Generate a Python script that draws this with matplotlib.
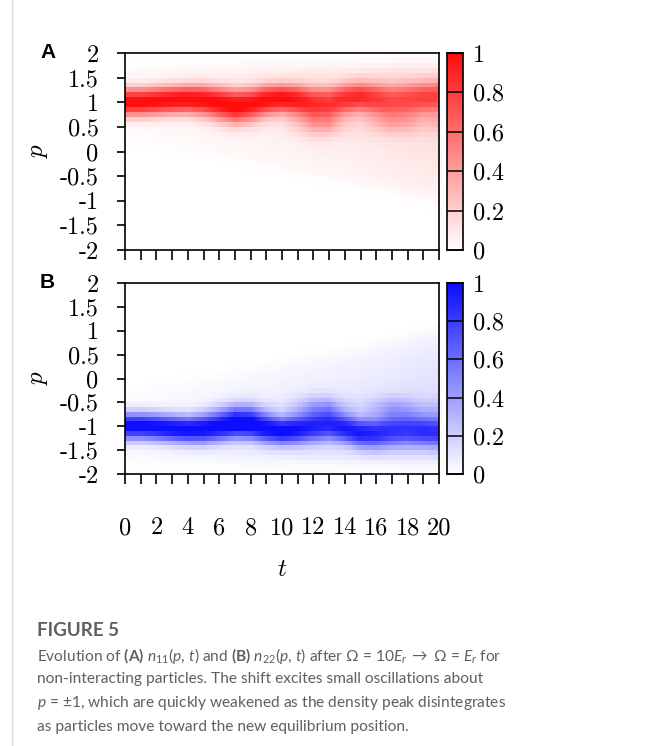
import numpy as np
import matplotlib
matplotlib.use("Agg")
import matplotlib.pyplot as plt
from matplotlib.colors import LinearSegmentedColormap

plt.rcParams['mathtext.fontset'] = 'custom'
plt.rcParams['mathtext.rm'] = 'Lato'
plt.rcParams['mathtext.it'] = 'Lato:italic'
plt.rcParams['mathtext.bf'] = 'Lato:bold'

# ---------------- data ----------------
t_knots = np.arange(0, 21)
# panel A: n11(p,t)
A_center = [1.00, 1.00, 1.02, 1.04, 1.05, 1.04, 1.00, 0.96, 0.98, 1.04, 1.07,
            1.04, 0.98, 0.98, 1.06, 1.10, 1.06, 1.02, 1.04, 1.08, 1.10]
A_peak = [0.98, 0.98, 0.97, 0.97, 0.97, 0.95, 0.92, 0.88, 0.88, 0.92, 0.92,
          0.86, 0.76, 0.72, 0.76, 0.76, 0.68, 0.60, 0.60, 0.62, 0.60]
A_width = [0.20, 0.20, 0.20, 0.20, 0.20, 0.21, 0.21, 0.21, 0.21, 0.21, 0.20,
           0.21, 0.22, 0.22, 0.21, 0.21, 0.22, 0.23, 0.23, 0.22, 0.22]
A_lobe_c = [0.75, 0.75, 0.75, 0.75, 0.75, 0.75, 0.72, 0.70, 0.70, 0.70, 0.65,
            0.60, 0.56, 0.56, 0.60, 0.62, 0.60, 0.58, 0.58, 0.62, 0.62]
A_lobe_amp = [0.0, 0.0, 0.0, 0.0, 0.0, 0.05, 0.15, 0.25, 0.15, 0.05, 0.05,
              0.15, 0.28, 0.28, 0.12, 0.06, 0.15, 0.22, 0.20, 0.12, 0.15]
A_tail_edge = [0.10, 0.06, 0.02, -0.02, -0.06, -0.10, -0.14, -0.20, -0.26, -0.32, -0.38,
               -0.44, -0.50, -0.56, -0.62, -0.68, -0.74, -0.80, -0.87, -0.94, -1.00]
A_tail_amp = [0.03, 0.03, 0.04, 0.05, 0.06, 0.06, 0.07, 0.08, 0.09, 0.09, 0.10,
              0.11, 0.12, 0.12, 0.13, 0.14, 0.15, 0.16, 0.17, 0.18, 0.19]
# panel B: n22(p,t)
B_center = [-1.00, -1.00, -1.02, -1.05, -1.07, -1.06, -1.02, -0.97, -0.98, -1.05, -1.10,
            -1.07, -1.02, -0.98, -1.05, -1.14, -1.15, -1.10, -1.08, -1.10, -1.12]
B_peak = [0.99, 0.99, 0.98, 0.98, 0.97, 0.97, 0.94, 0.94, 0.92, 0.94, 0.94,
          0.88, 0.80, 0.78, 0.82, 0.82, 0.76, 0.70, 0.68, 0.70, 0.68]
B_width = [0.20, 0.20, 0.20, 0.20, 0.20, 0.21, 0.21, 0.21, 0.21, 0.21, 0.20,
           0.21, 0.22, 0.22, 0.21, 0.21, 0.22, 0.23, 0.23, 0.22, 0.22]
B_lobe_c = [-0.75, -0.75, -0.75, -0.75, -0.75, -0.75, -0.72, -0.70, -0.70, -0.70, -0.66,
            -0.62, -0.60, -0.60, -0.62, -0.64, -0.62, -0.62, -0.62, -0.66, -0.66]
B_lobe_amp = [0.0, 0.0, 0.0, 0.0, 0.0, 0.05, 0.15, 0.25, 0.25, 0.10, 0.05,
              0.15, 0.28, 0.28, 0.12, 0.06, 0.15, 0.25, 0.20, 0.12, 0.12]
B_tail_edge = [-0.15, -0.11, -0.07, -0.03, 0.01, 0.05, 0.09, 0.15, 0.21, 0.27, 0.33,
               0.39, 0.45, 0.51, 0.57, 0.63, 0.70, 0.78, 0.86, 0.94, 1.00]
B_tail_amp = [0.03, 0.03, 0.04, 0.05, 0.06, 0.06, 0.07, 0.08, 0.09, 0.09, 0.10,
              0.11, 0.12, 0.12, 0.13, 0.14, 0.15, 0.16, 0.17, 0.18, 0.19]

y_ticks = [2, 1.5, 1, 0.5, 0, -0.5, -1, -1.5, -2]
y_labels = ['2', '1.5', '1', '0.5', '0', '-0.5', '-1', '-1.5', '-2']
x_ticks = list(range(0, 21))
x_labels = [str(v) if v % 2 == 0 else '' for v in x_ticks]
cb_ticks = [0, 0.2, 0.4, 0.6, 0.8, 1]
cb_labels = ['0', '0.2', '0.4', '0.6', '0.8', '1']

# ---------------- field construction ----------------
t_fine = np.linspace(0, 20, 201)
p_edges = np.linspace(-2, 2, 41)
p_mid = 0.5 * (p_edges[:-1] + p_edges[1:])
t_edges = np.linspace(0, 20, 202)


def sig(x):
    return 1.0 / (1.0 + np.exp(-x))


def field(center, peak, width, lobe_c, lobe_amp, tail_edge, tail_amp, sign):
    c = np.interp(t_fine, t_knots, center)
    a = np.interp(t_fine, t_knots, peak)
    w = np.interp(t_fine, t_knots, width)
    lc = np.interp(t_fine, t_knots, lobe_c)
    la = np.interp(t_fine, t_knots, lobe_amp)
    te = np.interp(t_fine, t_knots, tail_edge)
    ta = np.interp(t_fine, t_knots, tail_amp)
    P, _ = np.meshgrid(p_mid, t_fine, indexing='ij')
    d = np.abs(P - c) / w
    main = a * np.exp(-0.5 * d ** 2.2)
    lobe = la * np.exp(-(P - lc) ** 2 / (2 * 0.17 ** 2))
    frac = np.clip((P - te) / (c - te), 0, 1)
    if sign > 0:
        tail = ta * sig((P - te) / 0.08) * sig((1.7 - P) / 0.1)
    else:
        tail = ta * sig((te - P) / 0.08) * sig((P + 1.7) / 0.1)
    tail = tail * (0.3 + 0.7 * frac)
    return np.clip(main + lobe + tail, 0, 1)


nA = field(A_center, A_peak, A_width, A_lobe_c, A_lobe_amp, A_tail_edge, A_tail_amp, +1)
nB = field(B_center, B_peak, B_width, B_lobe_c, B_lobe_amp, B_tail_edge, B_tail_amp, -1)

cmapA = LinearSegmentedColormap.from_list('wr', ['#ffffff', '#ff0d0d'])
cmapB = LinearSegmentedColormap.from_list('wb', ['#ffffff', '#0d0dff'])

# ---------------- figure ----------------
W, H = 655, 746
fig = plt.figure(figsize=(W / 100, H / 100), dpi=100)


def fx(x):
    return x / W


def fy(y):
    return 1 - y / H


tickfont = dict(family='cmr10', size=17.5)

panels = [
    (nA, cmapA, 53, 250, 'A', False),
    (nB, cmapB, 283, 474, 'B', True),
]
for data, cmap, top, bot, letter, show_x in panels:
    ax = fig.add_axes([fx(125), fy(bot), fx(439) - fx(125), (bot - top) / H])
    ax.pcolormesh(t_edges, p_edges, data, cmap=cmap, vmin=0, vmax=1,
                  shading='flat', rasterized=True)
    ax.set_xlim(0, 20)
    ax.set_ylim(-2, 2)
    ax.set_yticks(y_ticks)
    ax.set_yticklabels(y_labels, fontdict=tickfont)
    ax.set_xticks(x_ticks)
    if show_x:
        ax.set_xticklabels(x_labels, fontdict=tickfont)
    else:
        ax.set_xticklabels([])
    ax.tick_params(axis='y', direction='out', length=6, width=1.2, pad=13)
    ax.tick_params(axis='x', direction='out', length=7, width=1.2, pad=24)
    for s in ax.spines.values():
        s.set_linewidth(1.2)
    ax.set_ylabel('p', family='cmmi10', fontsize=18, labelpad=8)
    if show_x:
        ax.set_xlabel('t', family='cmmi10', fontsize=18, labelpad=14)
    fig.text(fx(40), fy(top), letter, fontsize=15, fontweight='bold',
             family='Liberation Sans', ha='left', va='center')

    cax = fig.add_axes([fx(447), fy(bot), fx(463) - fx(447), (bot - top) / H])
    cb_vals = np.linspace(0, 1, 257)
    cax.pcolormesh([0, 1], np.linspace(0, 1, 258), cb_vals[:, None], cmap=cmap,
                   vmin=0, vmax=1, shading='flat', rasterized=True)
    cax.set_xlim(0, 1)
    cax.set_ylim(0, 1)
    cax.set_xticks([])
    cax.yaxis.tick_right()
    cax.set_yticks(cb_ticks)
    cax.set_yticklabels(cb_labels, fontdict=tickfont)
    cax.tick_params(axis='y', which='both', direction='in', length=5.5, width=1.1,
                    pad=7, left=True, right=True)
    for s in cax.spines.values():
        s.set_linewidth(1.2)

# page border line
fig.add_artist(plt.Line2D([fx(12), fx(12)], [0, 1], color='#d9d9d9', lw=1.0))

# caption
grey = '#5f5f5f'
fig.text(fx(37), fy(630), 'FIGURE 5', fontsize=13.5, color=grey, family='Lato',
         fontweight='bold', ha='left', va='center')
cap_lines = [
    r'Evolution of $\mathbf{(A)}$ $n_{11}(p,\, t)$ and $\mathbf{(B)}$ $n_{22}(p,\, t)$ after $\Omega$ = 10$E_r$ $\rightarrow$ $\Omega$ = $E_r$ for',
    'non-interacting particles. The shift excites small oscillations about',
    r'$p$ = $\pm$1, which are quickly weakened as the density peak disintegrates',
    'as particles move toward the new equilibrium position.',
]
for i, line in enumerate(cap_lines):
    fig.text(fx(37), fy(656 + 23.5 * i), line, fontsize=11.2, color=grey,
             family='Lato', ha='left', va='center')

fig.savefig('out.png', dpi=100)
